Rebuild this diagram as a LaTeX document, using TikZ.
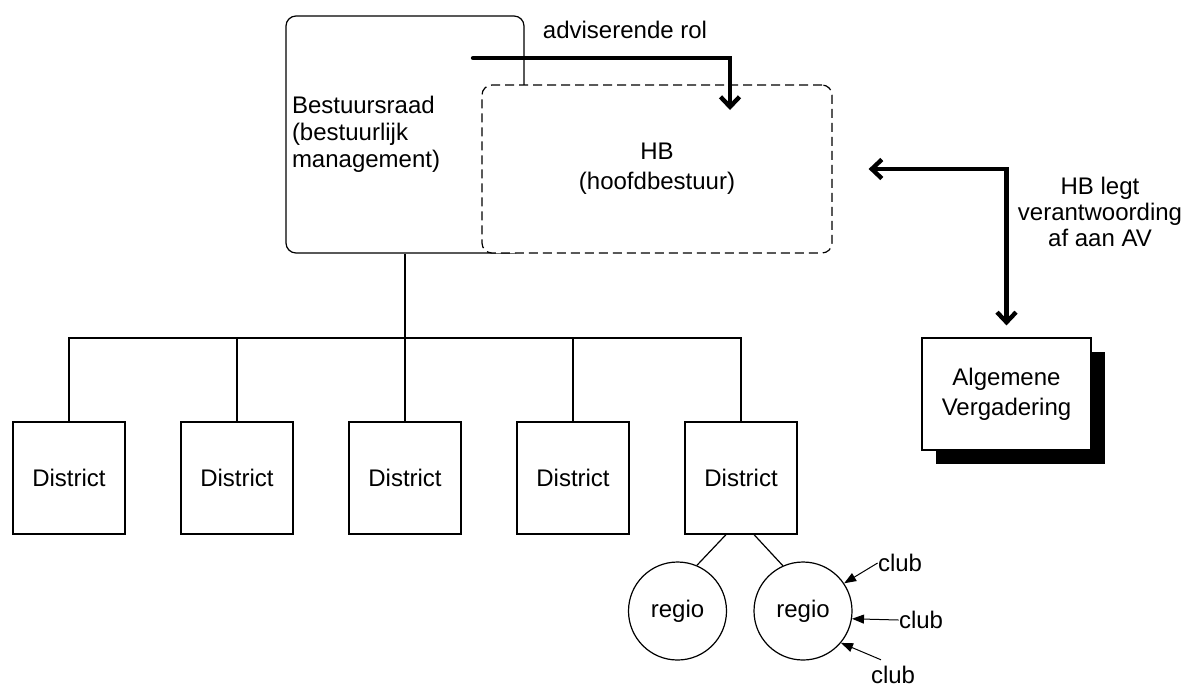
\documentclass[tikz,border=0pt]{standalone}
\usepackage{fontspec}
\setmainfont{Liberation Sans}
\usetikzlibrary{arrows.meta,positioning,shapes,shadows,calc}

\begin{document}
\begin{tikzpicture}[x=0.5pt, y=-0.5pt, font=\fontsize{12}{14.5}\selectfont,
                    every box/.style = {draw=black, line width=0.6pt, fill=white},
                    board/.style = {rectangle, rounded corners=5pt, every box},
                    main board/.style = {board, dashed, dash pattern=on 4.5pt off 2.5pt},
                    district/.style = {rectangle, minimum size=56pt, every box},
                    assembly/.style = {rectangle, minimum width=84.5pt, minimum height=56pt, every box, align=center,
                            drop shadow={shadow xshift=7pt, shadow yshift=-7pt, fill=black, opacity=1}},
                    regio/.style = {circle, minimum size=49pt, inner sep=0pt, every box},
                    club/.style = {inner sep=0pt},
                    relation/.style = {line width=2.2pt, -{Straight Barb[length=5pt, width=9.5pt]}},
                    both relation/.style = {line width=2.2pt, {Straight Barb[length=5pt, width=9.5pt]}-{Straight Barb[length=5pt, width=9.5pt]}},
                    member/.style = {line width=0.5pt, -{Triangle[length=6pt, width=4.5pt]}},
                    tree/.style = {line width=0.6pt} ]

                \useasboundingbox (0,0) rectangle (1197,686);

                % top level
                \node [board, minimum width=119pt, minimum height=118.5pt, inner xsep=3pt, text width=113pt, align=left,
                       font=\fontsize{12}{13.5}\selectfont] (bestuursraad) at (405,134.5)
                      {Bestuursraad\\(bestuurlijk\\management)};
                \node [main board, minimum width=175pt, minimum height=84pt, align=center,
                       font=\fontsize{12}{15}\selectfont] (hb) at (657,169) {HB\\(hoofdbestuur)};

                \coordinate (advice start) at (473,58);
                \coordinate (advice end) at (730,110);
                \draw [relation, line cap=round] (advice start) -| (advice end);
                \node (advice) at (625,30) {adviserende rol};

                % assembly right
                \node [assembly, font=\fontsize{12}{15}\selectfont] (av) at (1006.5,394) {Algemene\\Vergadering};
                \draw [both relation] ([xshift=18pt]hb.east) -| ([yshift=6pt]av.north);
                \node [align=center, font=\fontsize{12}{13}\selectfont] (account) at (1100,212) {HB legt\\verantwoording\\af aan AV};

                % districts
                \node [district] (d1) at (69,478) {District};
                \node [district] (d2) at (237,478) {District};
                \node [district] (d3) at (405,478) {District};
                \node [district] (d4) at (573,478) {District};
                \node [district] (d5) at (741,478) {District};

                \coordinate (bar) at (405,338);
                \draw [tree] (bestuursraad.south) -- (bar);
                \draw [tree] (d1.north) -- (d1.north |- bar) -- (d5.north |- bar) -- (d5.north);
                \draw [tree] (d2.north) -- (d2.north |- bar);
                \draw [tree] (d3.north) -- (d3.north |- bar);
                \draw [tree] (d4.north) -- (d4.north |- bar);

                % regions below last district
                \node [regio] (r1) at (677.5,611) {regio};
                \node [regio] (r2) at (803,611) {regio};
                \draw [tree] ([xshift=-7.5pt]d5.south) -- (r1.67);
                \draw [tree] ([xshift=6.5pt]d5.south) -- (r2.114);

                % clubs
                \node [club] (club1) at (900,563) {club};
                \node [club] (club2) at (921,620) {club};
                \node [club] (club3) at (893,675) {club};
                \draw [member] (club1.west) -- (r2.34);
                \draw [member] (club2.west) -- (r2.-9);
                \draw [member] ([xshift=-6pt,yshift=3pt]club3.north) -- (r2.-40);
            \end{tikzpicture}
\end{document}
